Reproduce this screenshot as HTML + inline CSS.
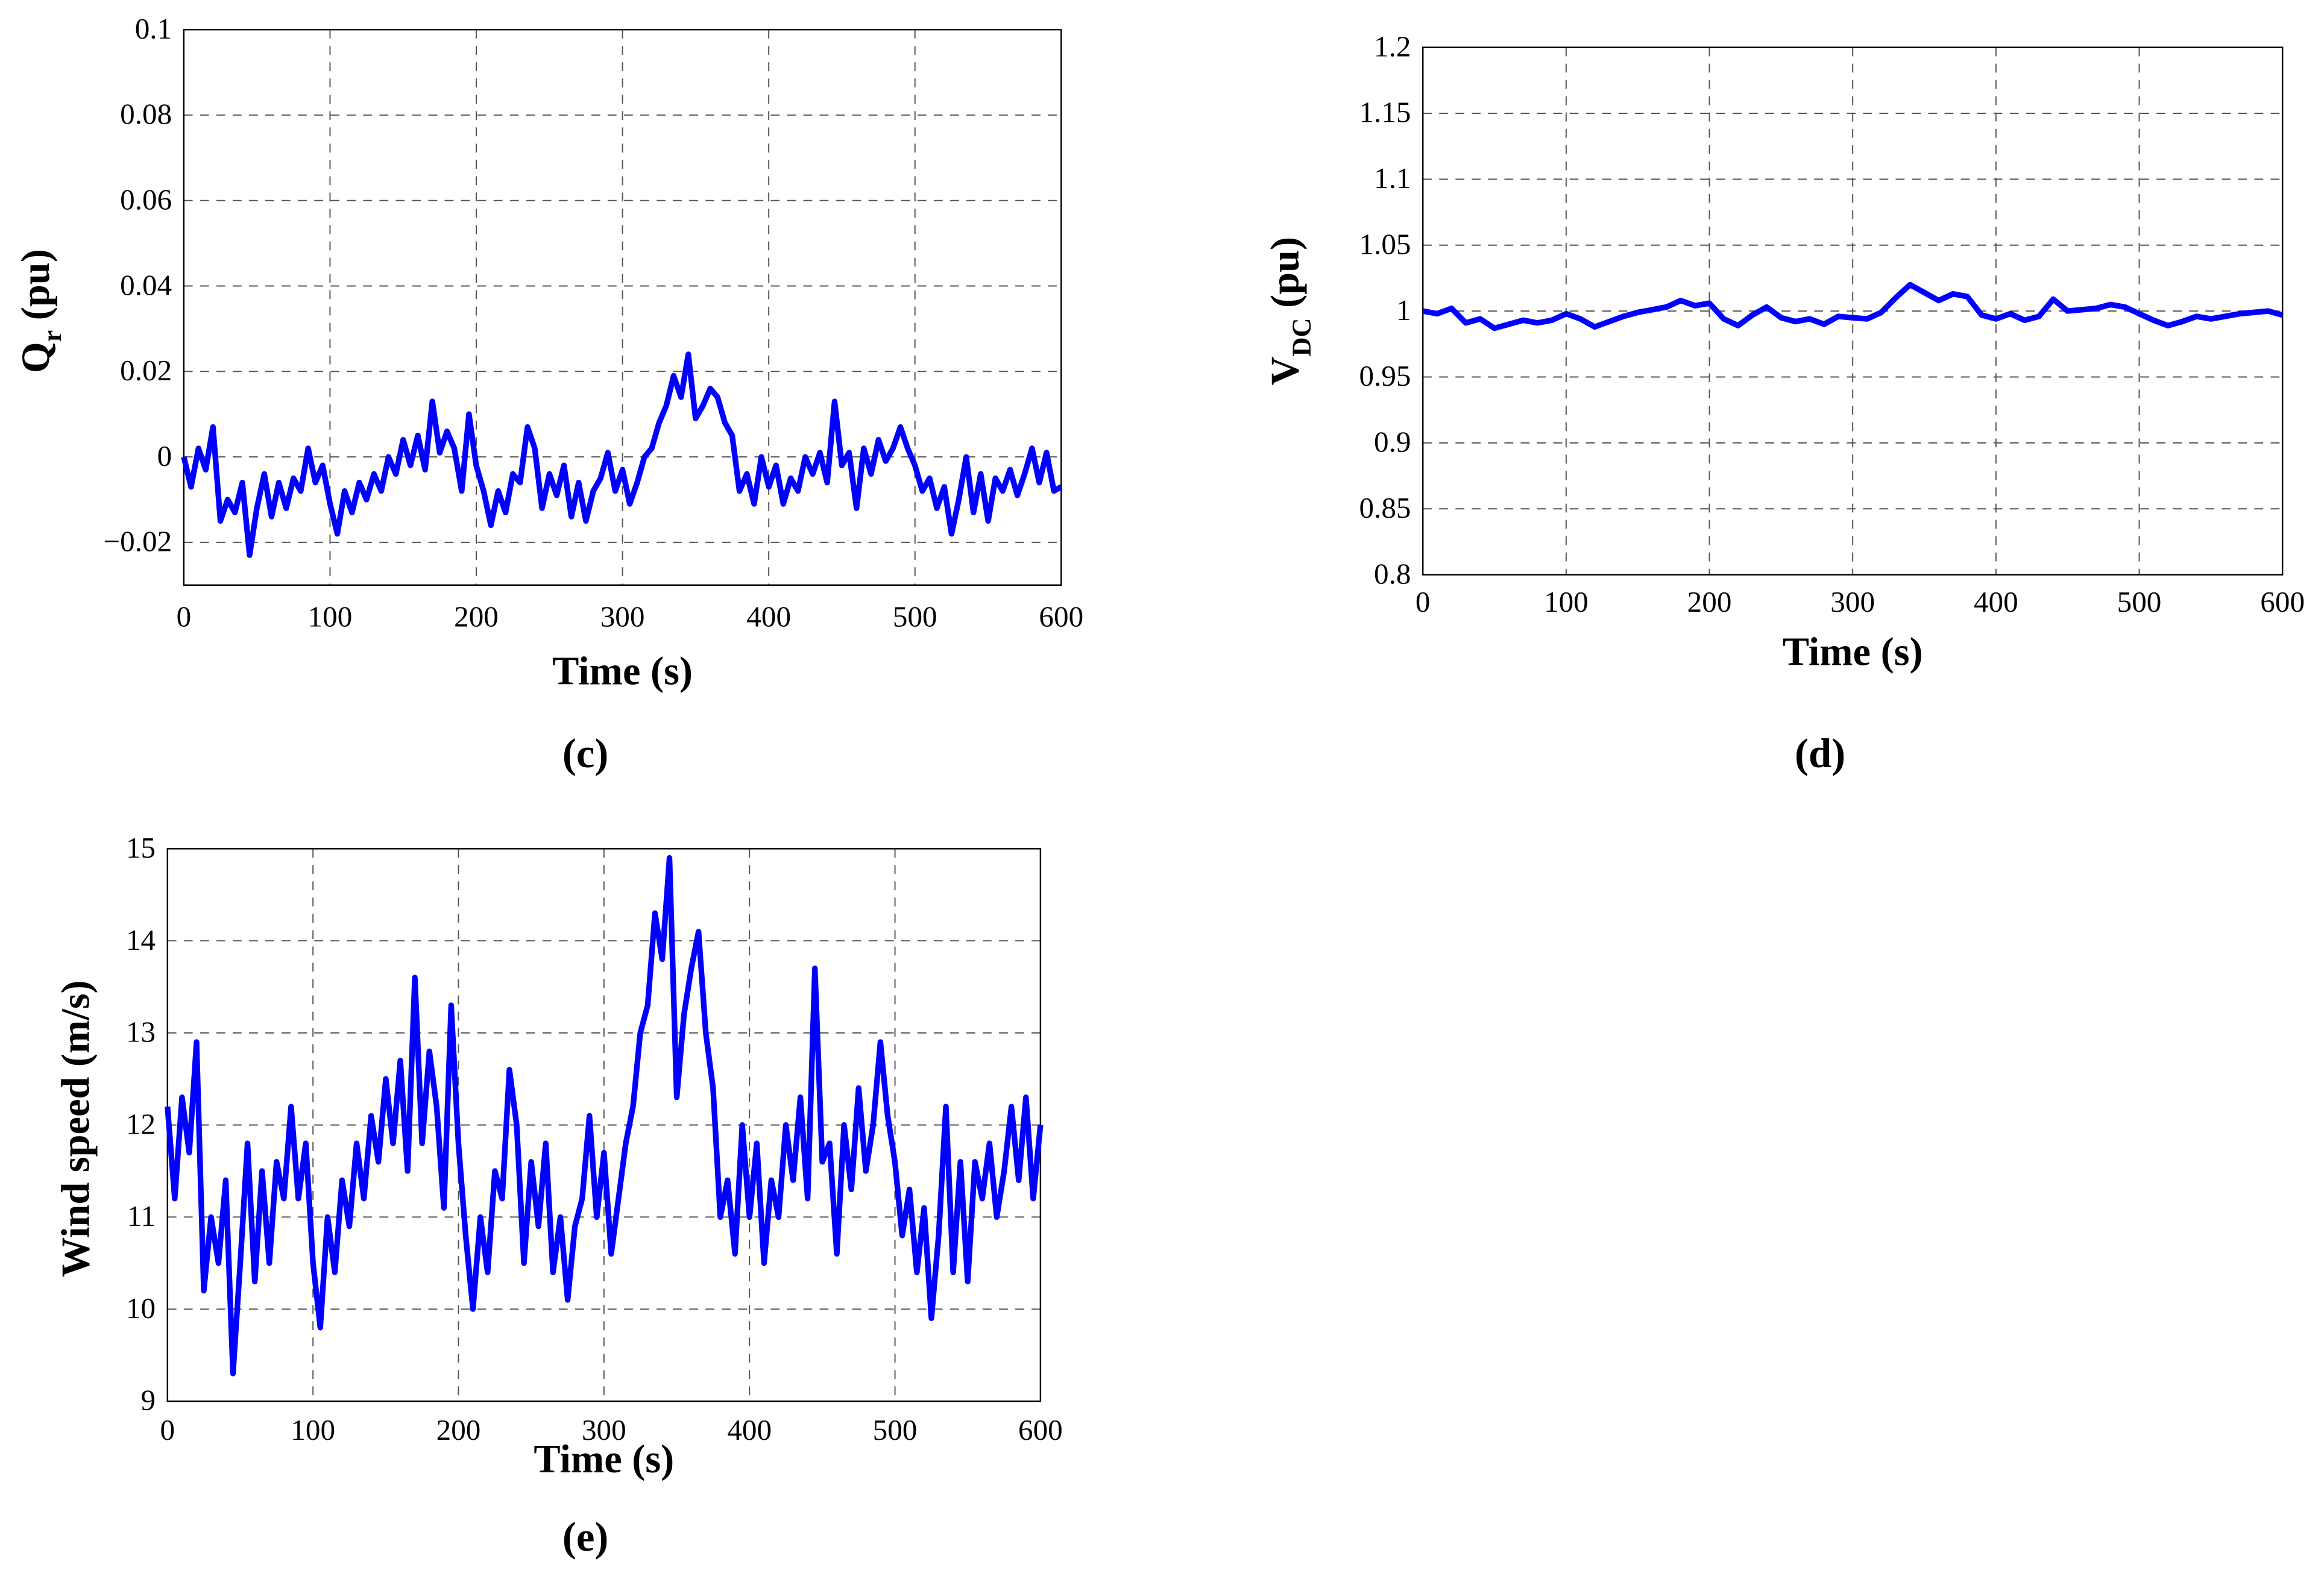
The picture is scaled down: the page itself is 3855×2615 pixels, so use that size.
<!DOCTYPE html>
<html><head><meta charset="utf-8"><style>
html,body{margin:0;padding:0;background:#fff;}
svg{display:block;}
text{font-family:"Liberation Serif",serif;fill:#000;}
</style></head><body>
<svg id="fig" width="3855" height="2615" viewBox="0 0 1568 1064" preserveAspectRatio="none" xmlns="http://www.w3.org/2000/svg"></svg>
<script>
const timeTicks = [0,100,200,300,400,500,600];
const qrTicks = [-0.02,0,0.02,0.04,0.06,0.08,0.1];
const qrTickLabels = ["\u22120.02","0","0.02","0.04","0.06","0.08","0.1"];
const vdcTicks = [0.8,0.85,0.9,0.95,1,1.05,1.1,1.15,1.2];
const vdcTickLabels = ["0.8","0.85","0.9","0.95","1","1.05","1.1","1.15","1.2"];
const windTicks = [9,10,11,12,13,14,15];
const windTickLabels = ["9","10","11","12","13","14","15"];
const windValues = [12.2,11.2,12.3,11.7,12.9,10.2,11.0,10.5,11.4,9.3,10.5,11.8,10.3,11.5,10.5,11.6,11.2,12.2,11.2,11.8,10.5,9.8,11.0,10.4,11.4,10.9,11.8,11.2,12.1,11.6,12.5,11.8,12.7,11.5,13.6,11.8,12.8,12.2,11.1,13.3,11.8,10.8,10.0,11.0,10.4,11.5,11.2,12.6,12.0,10.5,11.6,10.9,11.8,10.4,11.0,10.1,10.9,11.2,12.1,11.0,11.7,10.6,11.2,11.8,12.2,13.0,13.3,14.3,13.8,14.9,12.3,13.2,13.7,14.1,13.0,12.4,11.0,11.4,10.6,12.0,11.0,11.8,10.5,11.4,11.0,12.0,11.4,12.3,11.2,13.7,11.6,11.8,10.6,12.0,11.3,12.4,11.5,12.0,12.9,12.1,11.6,10.8,11.3,10.4,11.1,9.9,10.8,12.2,10.4,11.6,10.3,11.6,11.2,11.8,11.0,11.5,12.2,11.4,12.3,11.2,12.0];
const qrValues = [0.000,-0.007,0.002,-0.003,0.007,-0.015,-0.010,-0.013,-0.006,-0.023,-0.012,-0.004,-0.014,-0.006,-0.012,-0.005,-0.008,0.002,-0.006,-0.002,-0.011,-0.018,-0.008,-0.013,-0.006,-0.010,-0.004,-0.008,0.000,-0.004,0.004,-0.002,0.005,-0.003,0.013,0.001,0.006,0.002,-0.008,0.010,-0.002,-0.008,-0.016,-0.008,-0.013,-0.004,-0.006,0.007,0.002,-0.012,-0.004,-0.009,-0.002,-0.014,-0.006,-0.015,-0.008,-0.005,0.001,-0.008,-0.003,-0.011,-0.006,0.000,0.002,0.008,0.012,0.019,0.014,0.024,0.009,0.012,0.016,0.014,0.008,0.005,-0.008,-0.004,-0.011,0.000,-0.007,-0.002,-0.011,-0.005,-0.008,0.000,-0.004,0.001,-0.006,0.013,-0.002,0.001,-0.012,0.002,-0.004,0.004,-0.001,0.002,0.007,0.002,-0.002,-0.008,-0.005,-0.012,-0.007,-0.018,-0.010,0.000,-0.013,-0.004,-0.015,-0.005,-0.008,-0.003,-0.009,-0.004,0.002,-0.006,0.001,-0.008,-0.007];
const vdcValues = [1.000,0.998,1.002,0.991,0.994,0.987,0.990,0.993,0.991,0.993,0.998,0.994,0.988,0.992,0.996,0.999,1.001,1.003,1.008,1.004,1.006,0.994,0.989,0.997,1.003,0.995,0.992,0.994,0.990,0.996,0.995,0.994,0.999,1.010,1.020,1.014,1.008,1.013,1.011,0.997,0.994,0.998,0.993,0.996,1.009,1.000,1.001,1.002,1.005,1.003,0.998,0.993,0.989,0.992,0.996,0.994,0.996,0.998,0.999,1.000,0.997];
const NS="http://www.w3.org/2000/svg";
const svg=document.getElementById('fig');
function mk(tag,attrs,parent){const e=document.createElementNS(NS,tag);for(const k in attrs)e.setAttribute(k,attrs[k]);(parent||svg).appendChild(e);return e;}
function chart(o){
  const g=mk('g',{});
  
  
  const sx=v=>o.x0+(v-0)/(600-0)*(o.x1-o.x0);
  const sy=v=>o.y1-(v-o.ymin)/(o.ymax-o.ymin)*(o.y1-o.y0);
  timeTicks.forEach((t,i)=>{
    const x=sx(t);
    if(i>0&&i<timeTicks.length-1){const l=mk('line',{x1:x,x2:x,y1:o.y0,y2:o.y1,stroke:'#555','stroke-width':0.8,'stroke-dasharray':'6,5'},g);
      
      }
    const tx=mk('text',{x:x,y:o.y1+o.xlabOff,'font-size':20,'text-anchor':'middle'},g);tx.textContent=String(t);
    
    
  });
  o.ticks.forEach((t,i)=>{
    const y=sy(t);
    if(Math.abs(t-o.ymin)>1e-9&&Math.abs(t-o.ymax)>1e-9){const l=mk('line',{x1:o.x0,x2:o.x1,y1:y,y2:y,stroke:'#555','stroke-width':0.8,'stroke-dasharray':'6,5'},g);
      
      }
    const tx=mk('text',{x:o.x0-8,y:y+6,'font-size':20,'text-anchor':'end'},g);tx.textContent=o.labels[i];
    
    
  });
  const fr=mk('rect',{x:o.x0,y:o.y0,width:o.x1-o.x0,height:o.y1-o.y0,fill:'none',stroke:'#000','stroke-width':1},g);
  
  
  const n=o.data.length;const pts=o.data.map((v,i)=>sx(i*600/(n-1)).toFixed(1)+','+sy(v).toFixed(1)).join(' ');
  const pl=mk('polyline',{points:pts,fill:'none',stroke:'#0000ff','stroke-width':3.8,'stroke-linejoin':'round'},g);
  
  
  const xl=mk('text',{x:(o.x0+o.x1)/2,y:o.xTitleY,'font-size':27,'font-weight':'bold','text-anchor':'middle'},g);xl.textContent='Time (s)';
  
  
  const yl=mk('text',{x:0,y:0,'font-size':27,'font-weight':'bold','text-anchor':'middle',transform:`translate(${o.yTitleX},${o.yTitleY}) rotate(-90)`},g);
  yl.innerHTML=o.ytitle;
  
  
  const cap=mk('text',{x:o.capX,y:o.capY,'font-size':28,'font-weight':'bold','text-anchor':'middle'},g);cap.textContent=o.cap;
  
  
}
chart({name:'qr-chart',x0:124,x1:716,y0:20,y1:395,ymin:-0.03,ymax:0.1,ticks:qrTicks,labels:qrTickLabels,data:qrValues,xlabOff:28,xTitleY:462,yTitleX:33,yTitleY:210,ytitle:'Q<tspan font-size="18" dy="8">r</tspan><tspan dy="-8"> (pu)</tspan>',capX:395,capY:518,cap:'(c)'});
chart({name:'vdc-chart',x0:960,x1:1540,y0:32,y1:388,ymin:0.8,ymax:1.2,ticks:vdcTicks,labels:vdcTickLabels,data:vdcValues,xlabOff:25,xTitleY:449,yTitleX:876,yTitleY:210,ytitle:'V<tspan font-size="18" dy="8">DC</tspan><tspan dy="-8"> (pu)</tspan>',capX:1228,capY:518,cap:'(d)'});
chart({name:'wind-chart',x0:113,x1:702,y0:573,y1:946,ymin:9,ymax:15,ticks:windTicks,labels:windTickLabels,data:windValues,xlabOff:26,xTitleY:994,yTitleX:60,yTitleY:762,ytitle:'Wind speed (m/s)',capX:395,capY:1047,cap:'(e)'});
</script>
</body></html>
